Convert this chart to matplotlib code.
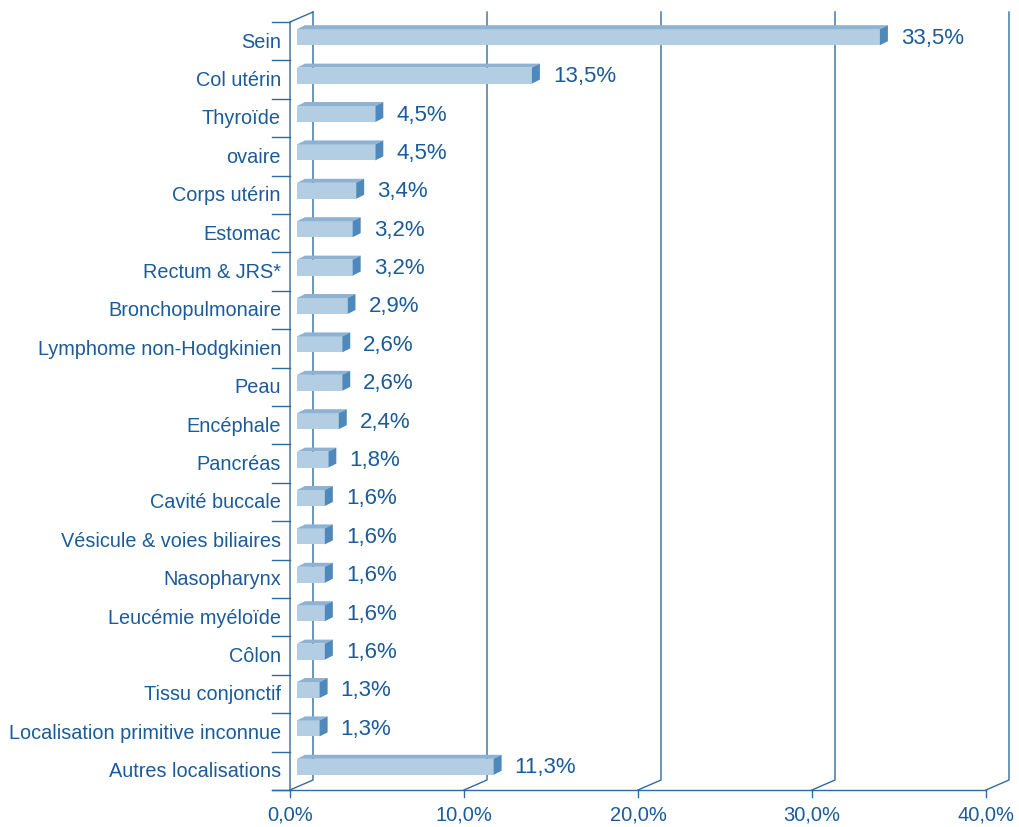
import matplotlib as mpl
mpl.use('Agg')
import matplotlib.pyplot as plt
from matplotlib.patches import Polygon
from matplotlib.lines import Line2D
from matplotlib.transforms import IdentityTransform

cats = ['Sein', 'Col utérin', 'Thyroïde', 'ovaire', 'Corps utérin', 'Estomac',
        'Rectum & JRS*', 'Bronchopulmonaire', 'Lymphome non-Hodgkinien', 'Peau',
        'Encéphale', 'Pancréas', 'Cavité buccale', 'Vésicule & voies biliaires',
        'Nasopharynx', 'Leucémie myéloïde', 'Côlon', 'Tissu conjonctif',
        'Localisation primitive inconnue', 'Autres localisations']
vals = [33.5, 13.5, 4.5, 4.5, 3.4, 3.2, 3.2, 2.9, 2.6, 2.6, 2.4, 1.8, 1.6, 1.6,
        1.6, 1.6, 1.6, 1.3, 1.3, 11.3]
xticks = [0, 10, 20, 30, 40]

plt.rcParams['font.family'] = ['Liberation Sans', 'DejaVu Sans']

W, H = 1019, 828
txtcol = '#1b5b99'
linecol = '#2f6aa3'
front = '#b3cee2'
topc = '#8db2d3'
sidec = '#4f89bb'

fig = plt.figure(figsize=(W / 100, H / 100), dpi=100)
ax = fig.add_axes([290 / W, (H - 791) / H, (986 - 290) / W, (791 - 23) / H])
ax.set_xlim(0, 40)
ax.set_ylim(len(cats) - 0.5, -0.5)
ax.set_axis_off()

ident = IdentityTransform()

def px(x, y, dx=0, dy=0):
    p = ax.transData.transform((x, y))
    return (p[0] + dx, p[1] + dy)

def line(pts, z=1):
    xs = [p[0] for p in pts]
    ys = [p[1] for p in pts]
    fig.add_artist(Line2D(xs, ys, transform=ident, color=linecol, lw=1.0, zorder=z))

def poly(pts, c, z=3):
    fig.add_artist(Polygon(pts, closed=True, transform=ident, facecolor=c,
                           edgecolor='none', zorder=z))

ybot = len(cats) - 0.5
ytop = -0.5
DX, DY = 23, 10

# back wall / floor
for t in xticks:
    line([px(t, ybot), px(t, ybot, DX, DY), px(t, ytop, DX, DY)])
line([px(0, ybot), px(0, ytop), px(0, ytop, DX, DY)], z=5)
line([px(0, ybot, -18), px(40, ybot)], z=5)
for t in xticks:
    line([px(t, ybot), px(t, ybot, 0, -7)], z=5)
    x0, y0 = px(t, ybot)
    fig.text(x0 / W, (y0 - 24) / H, ('%.1f%%' % t).replace('.', ','), ha='center',
             va='center', fontsize=14.5, color=txtcol)

# category ticks and labels
for k in range(len(cats) + 1):
    line([px(0, k - 0.5, -18), px(0, k - 0.5)], z=5)
for i, c in enumerate(cats):
    x0, y0 = px(0, i)
    fig.text((x0 - 9) / W, (y0 + 0) / H, c, ha='right', va='center',
             fontsize=14.3, color=txtcol)

# bars
bh = 16
bx, by = 7, 4
sx, sy = 8, 4
for i, v in enumerate(vals):
    a = px(0, i, bx, by - bh / 2)
    b = px(v, i, bx, by - bh / 2)
    c = px(v, i, bx, by + bh / 2)
    d = px(0, i, bx, by + bh / 2)
    poly([a, b, c, d], front)
    poly([d, c, (c[0] + sx, c[1] + sy), (d[0] + sx, d[1] + sy)], topc)
    poly([b, c, (c[0] + sx, c[1] + sy), (b[0] + sx, b[1] + sy)], sidec)
    fig.text((b[0] + 21) / W, (by + px(0, i)[1]) / H,
             ('%.1f%%' % v).replace('.', ','), ha='left', va='center',
             fontsize=16, color=txtcol)

fig.savefig('out.png', dpi=100)
